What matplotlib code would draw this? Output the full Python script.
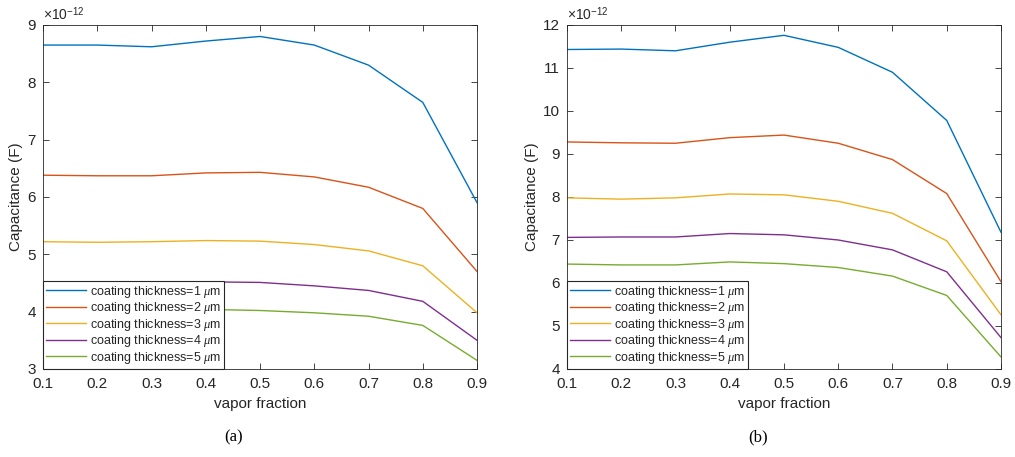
import numpy as np
import matplotlib.pyplot as plt

plt.rcParams['font.family'] = ['Liberation Sans', 'DejaVu Sans']
plt.rcParams['mathtext.fontset'] = 'custom'
plt.rcParams['mathtext.rm'] = 'Liberation Sans'
plt.rcParams['mathtext.it'] = 'Liberation Serif:italic'

# vapor fraction
vf = [0.1, 0.2, 0.3, 0.4, 0.5, 0.6, 0.7, 0.8, 0.9]

# panel (a), values in units of 1e-12 F
a_t1 = [8.65, 8.65, 8.62, 8.72, 8.80, 8.65, 8.30, 7.65, 5.90]
a_t2 = [6.38, 6.37, 6.37, 6.42, 6.43, 6.35, 6.17, 5.80, 4.70]
a_t3 = [5.22, 5.21, 5.22, 5.24, 5.23, 5.17, 5.06, 4.80, 3.98]
a_t4 = [4.52, 4.52, 4.52, 4.52, 4.51, 4.45, 4.37, 4.18, 3.50]
a_t5 = [4.05, 4.04, 4.04, 4.04, 4.02, 3.98, 3.92, 3.76, 3.15]

# panel (b)
b_t1 = [11.43, 11.44, 11.40, 11.60, 11.76, 11.48, 10.90, 9.78, 7.18]
b_t2 = [9.28, 9.26, 9.25, 9.38, 9.44, 9.25, 8.87, 8.08, 6.03]
b_t3 = [7.98, 7.95, 7.98, 8.07, 8.05, 7.90, 7.62, 6.98, 5.26]
b_t4 = [7.06, 7.07, 7.07, 7.15, 7.12, 7.00, 6.77, 6.26, 4.73]
b_t5 = [6.44, 6.42, 6.42, 6.49, 6.45, 6.36, 6.16, 5.71, 4.28]

labels = ['coating thickness=%d $\\mu$m' % k for k in range(1, 6)]
colors = ['#0072BD', '#D95319', '#EDB120', '#7E2F8E', '#77AC30']
txt = '#262626'

fig = plt.figure(figsize=(10.15, 4.57), dpi=100)
axa = fig.add_axes([0.0424, 0.1926, 0.4276, 0.7527])
axb = fig.add_axes([0.5586, 0.1926, 0.4276, 0.7527])


def panel(ax, series, ylim, yticks, cap):
    for s, c, l in zip(series, colors, labels):
        ax.plot(vf, np.array(s) * 1e-12, color=c, lw=1.0, label=l)
    ax.set_xlim(0.1, 0.9)
    ax.set_ylim(ylim[0] * 1e-12, ylim[1] * 1e-12)
    ax.set_xticks(vf)
    ax.set_xticklabels(['%.1f' % v for v in vf])
    ax.set_yticks([t * 1e-12 for t in yticks])
    ax.set_yticklabels(['%d' % t for t in yticks])
    ax.tick_params(direction='in', top=True, right=True, labelsize=11,
                   colors=txt, length=4, width=0.6)
    ax.tick_params(axis='x', pad=6)
    ax.tick_params(axis='y', pad=5)
    for sp in ax.spines.values():
        sp.set_color(txt)
        sp.set_linewidth(0.6)
    ax.set_xlabel('vapor fraction', fontsize=11, color=txt, labelpad=4)
    ax.set_ylabel('Capacitance (F)', fontsize=11, color=txt, labelpad=3)
    ax.text(0.0, 1.006, r'$\times$10$^{-12}$', transform=ax.transAxes,
            fontsize=10, color=txt, ha='left', va='bottom')
    leg = ax.legend(loc='lower left', fontsize=9, frameon=True, fancybox=False,
                    borderaxespad=0.0, handlelength=3.2, handletextpad=0.3,
                    labelspacing=0.04, borderpad=0.25, framealpha=1)
    leg.get_frame().set_edgecolor(txt)
    leg.get_frame().set_linewidth(0.8)
    for t in leg.get_texts():
        t.set_color(txt)
    ax.text(0.44, -0.198, cap, transform=ax.transAxes, fontsize=12,
            family='Liberation Serif', color='black', ha='center', va='center')


panel(axa, [a_t1, a_t2, a_t3, a_t4, a_t5], (3, 9), range(3, 10), '(a)')
panel(axb, [b_t1, b_t2, b_t3, b_t4, b_t5], (4, 12), range(4, 13), '(b)')

fig.savefig('out.png', dpi=100)
